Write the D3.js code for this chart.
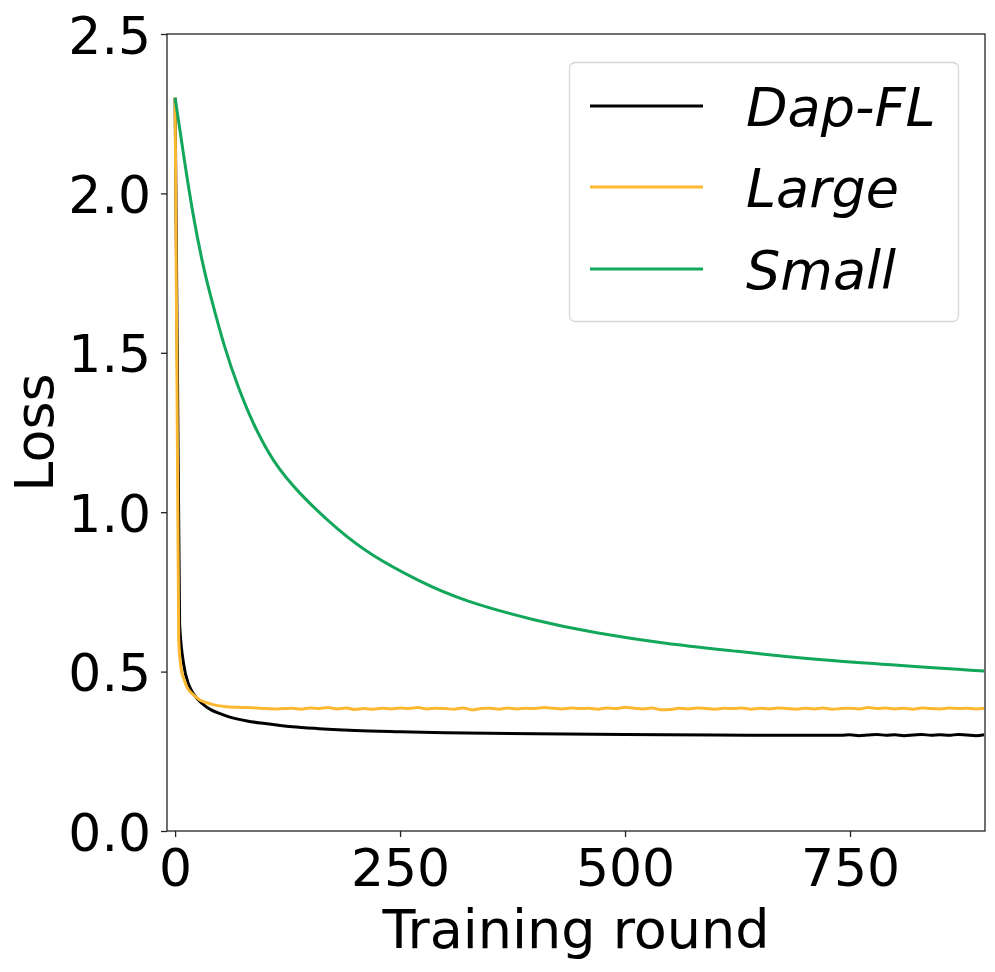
<!DOCTYPE html>
<html>
<head>
<meta charset="utf-8">
<script src="https://cdn.jsdelivr.net/npm/d3@7"></script>
<style>
  html, body { margin: 0; padding: 0; background: #fff; }
  text { font-family: "DejaVu Sans", sans-serif; fill: #000; }
</style>
</head>
<body>
<svg id="chart" width="995" height="972"></svg>
<script>
// ---- data ----
const seriesNames = ["Dap-FL", "Large", "Small"];
const seriesColors = ["#000000", "#fcb830", "#12a75a"];

const roundsDap = [0, 5, 10, 15, 20, 30, 40, 50, 60, 80, 100, 130, 160, 200, 250, 300, 400, 500, 600, 700, 740,
  750, 760, 770, 780, 790, 800, 810, 820, 830, 840, 850, 860, 870, 880, 890, 899];
const lossDap = [2.30, 0.65, 0.515, 0.46, 0.432, 0.40, 0.38, 0.368, 0.358, 0.345, 0.337, 0.327, 0.321, 0.315, 0.311, 0.308, 0.305, 0.303, 0.301, 0.300, 0.300,
  0.302, 0.299, 0.301, 0.303, 0.300, 0.302, 0.299, 0.301, 0.303, 0.300, 0.302, 0.300, 0.303, 0.301, 0.299, 0.302];

const roundsLarge = [0, 4, 7, 10, 13, 20, 28, 40, 57, 70, 90,
  100, 110, 120, 130, 140, 150, 160, 170, 180, 190, 200, 210, 220, 230, 240, 250, 260, 270, 280, 290,
  300, 310, 320, 330, 340, 350, 360, 370, 380, 390, 400, 410, 420, 430, 440, 450, 460, 470, 480, 490,
  500, 510, 520, 530, 540, 550, 560, 570, 580, 590, 600, 610, 620, 630, 640, 650, 660, 670, 680, 690,
  700, 710, 720, 730, 740, 750, 760, 770, 780, 790, 800, 810, 820, 830, 840, 850, 860, 870, 880, 890, 899];
const lossLarge = [2.30, 0.60, 0.505, 0.475, 0.452, 0.428, 0.41, 0.398, 0.39, 0.388, 0.386,
  0.384, 0.383, 0.384, 0.385, 0.382, 0.386, 0.384, 0.387, 0.383, 0.386, 0.381, 0.384, 0.382, 0.385, 0.383, 0.386, 0.384, 0.387, 0.383, 0.385,
  0.384, 0.382, 0.386, 0.380, 0.384, 0.385, 0.382, 0.386, 0.383, 0.385, 0.384, 0.387, 0.385, 0.383, 0.386, 0.384, 0.385, 0.382, 0.386, 0.384,
  0.388, 0.385, 0.383, 0.386, 0.380, 0.381, 0.385, 0.383, 0.386, 0.384, 0.382, 0.385, 0.384, 0.386, 0.382, 0.385, 0.383, 0.386, 0.384, 0.382,
  0.385, 0.383, 0.386, 0.382, 0.384, 0.385, 0.383, 0.387, 0.384, 0.386, 0.383, 0.385, 0.382, 0.386, 0.384, 0.383, 0.386, 0.384, 0.385, 0.383, 0.385];

const roundsSmall = [0, 10, 20, 30, 40, 55, 70, 87, 110, 140, 180, 220, 270, 325, 400, 470, 545, 620, 730, 899];
const lossSmall = [2.30, 2.11, 1.935, 1.79, 1.673, 1.52, 1.395, 1.279, 1.160, 1.056, 0.949, 0.865, 0.787, 0.722, 0.662, 0.621, 0.589, 0.565, 0.535, 0.502];

const xTicks = [0, 250, 500, 750];
const yTicks = [0.0, 0.5, 1.0, 1.5, 2.0, 2.5];
const xLabel = "Training round";
const yLabel = "Loss";

// ---- layout ----
const svg = d3.select("#chart");
const L = 167, R = 985, T = 34, B = 831;
const x = d3.scaleLinear().domain([-9, 900]).range([L, R]);
const y = d3.scaleLinear().domain([0, 2.5]).range([B, T]);

const tickFont = 52, labelFont = 54, legendFont = 54;

// lines
const series = [
  { name: seriesNames[0], color: seriesColors[0], xs: roundsDap, ys: lossDap, curve: d3.curveMonotoneX },
  { name: seriesNames[1], color: seriesColors[1], xs: roundsLarge, ys: lossLarge, curve: d3.curveMonotoneX },
  { name: seriesNames[2], color: seriesColors[2], xs: roundsSmall, ys: lossSmall, curve: d3.curveNatural }
];

svg.append("defs").append("clipPath").attr("id", "clip")
  .append("rect").attr("x", L).attr("y", T).attr("width", R - L).attr("height", B - T);

const g = svg.append("g").attr("clip-path", "url(#clip)");
series.forEach(s => {
  const line = d3.line().x(d => x(d[0])).y(d => y(d[1])).curve(s.curve);
  g.append("path")
    .datum(s.xs.map((r, i) => [r, s.ys[i]]))
    .attr("fill", "none")
    .attr("stroke", s.color)
    .attr("stroke-width", 3)
    .attr("stroke-linejoin", "round")
    .attr("d", line);
});

// axes
const xAxis = d3.axisBottom(x).tickValues(xTicks).tickSize(6).tickPadding(10).tickFormat(d3.format("d"));
const yAxis = d3.axisLeft(y).tickValues(yTicks).tickSize(6).tickPadding(10).tickFormat(d3.format(".1f"));

const gx = svg.append("g").attr("transform", `translate(0,${B})`).call(xAxis);
const gy = svg.append("g").attr("transform", `translate(${L},0)`).call(yAxis);
[gx, gy].forEach(a => {
  a.select(".domain").remove();
  a.selectAll(".tick line").attr("stroke", "#222").attr("stroke-width", 1.3);
  a.selectAll(".tick text").style("font-family", "DejaVu Sans").style("font-size", tickFont + "px").attr("fill", "#000");
});
gx.selectAll(".tick text").attr("dy", null).attr("y", 55);
gy.selectAll(".tick text").attr("dy", null).attr("y", 19);

// frame
svg.append("rect").attr("x", L).attr("y", T).attr("width", R - L).attr("height", B - T)
  .attr("fill", "none").attr("stroke", "#222").attr("stroke-width", 1.3);

// axis labels
svg.append("text").attr("x", (L + R) / 2).attr("y", 948).attr("text-anchor", "middle")
  .style("font-size", labelFont + "px").text(xLabel);
svg.append("text").attr("transform", `translate(53,${(T + B) / 2}) rotate(-90)`).attr("text-anchor", "middle")
  .style("font-size", labelFont + "px").text(yLabel);

// legend
const lg = svg.append("g");
lg.append("rect").attr("x", 569.5).attr("y", 62.5).attr("width", 389).attr("height", 259)
  .attr("rx", 6).attr("fill", "#fff").attr("fill-opacity", 0.8).attr("stroke", "#d6d6d6").attr("stroke-width", 1.3);
const legendY = [106, 187, 269];
series.forEach((s, i) => {
  lg.append("line").attr("x1", 590).attr("x2", 703).attr("y1", legendY[i]).attr("y2", legendY[i])
    .attr("stroke", s.color).attr("stroke-width", 3);
  lg.append("text").attr("x", 746).attr("y", legendY[i] + 20)
    .style("font-size", legendFont + "px").style("font-style", "italic").text(s.name);
});
</script>
</body>
</html>
